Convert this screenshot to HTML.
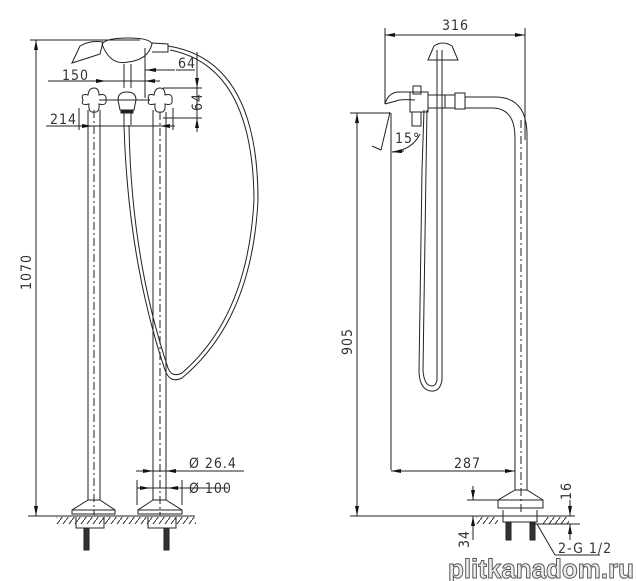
<!DOCTYPE html>
<html><head><meta charset="utf-8"><style>
html,body{margin:0;padding:0;background:#fff}
svg{display:block}
text{font-family:"DejaVu Sans Condensed","Liberation Sans",sans-serif;fill:#333;font-size:14px;letter-spacing:1px}
</style></head><body>
<svg width="636" height="581" viewBox="0 0 636 581" xmlns="http://www.w3.org/2000/svg">
<defs>
<marker id="a" viewBox="0 0 10 4" refX="10" refY="2" markerWidth="10" markerHeight="4" orient="auto-start-reverse" markerUnits="userSpaceOnUse"><path d="M0,0 L10,2 L0,4z" fill="#111"/></marker>
<pattern id="h" width="6" height="8" patternUnits="userSpaceOnUse"><path d="M6,0 L0,8" stroke="#333" stroke-width="1"/></pattern>
</defs>
<g stroke="#222" stroke-width="1" fill="none">
<line x1="30" y1="40" x2="140" y2="40"/>
<line x1="36" y1="40" x2="36" y2="516" marker-start="url(#a)" marker-end="url(#a)"/>
<line x1="28" y1="516" x2="195" y2="516"/>
<rect x="56" y="517" width="140" height="7" fill="url(#h)" stroke="none"/>
<path d="M72,63 L80,46 Q90,40 103,42 L100,54 Q88,58 72,63z"/>
<path d="M102,44 Q110,66 128,62 Q148,60 152,44 Q150,38 128,38 Q106,38 102,44z"/>
<path d="M152,43 L168,44 L168,52 L152,52"/>
<path d="M168,46 Q258,60 258,200 Q252,320 182,378 Q170,384 165,370 Q128,260 124,125"/>
<path d="M170,50 Q253,66 254,200 Q248,316 182,373 Q172,378 168,368 Q131,258 129,125"/>
<path d="M124,64 L124,88 M131,64 L131,88"/>
<path d="M118,100 Q118,92 127,92 Q136,92 136,100 L134,110 L120,110z"/>
<rect x="121" y="110" width="12" height="3" fill="#222"/>
<path d="M124,113 L124,125 M131,113 L131,125"/>
<path d="M83,100 Q80,93 88,95 Q89,88 94,88 Q99,88 99,95 Q107,93 106,100 Q107,106 99,104 Q100,113 94,112 Q88,113 89,104 Q80,106 83,100z"/>
<path d="M149,100 Q146,93 154,95 Q155,88 160,88 Q165,88 165,95 Q173,93 172,100 Q173,106 165,104 Q166,113 160,112 Q154,113 155,104 Q146,106 149,100z"/>
<line x1="99" y1="100" x2="150" y2="100"/>
<path d="M88,110 L88,500 M100,110 L100,500 M153,110 L153,500 M166,112 L166,500"/>
<path d="M94,110 L94,515 M160,112 L160,515" stroke-dasharray="8,3,2,3"/>
<path d="M88,500 L72,510 L72,514 L115,514 L115,510 L100,500z M72,510 L115,510"/>
<path d="M153,500 L138,510 L138,514 L182,514 L182,510 L166,500z M138,510 L182,510"/>
<path d="M76,517 L76,528 L104,528 L104,517 M148,517 L148,528 L176,528 L176,517"/>
<rect x="84" y="528" width="5" height="22" fill="#333"/>
<rect x="164" y="528" width="5" height="22" fill="#333"/>
<line x1="48" y1="81" x2="150" y2="81"/>
<line x1="92" y1="81" x2="106" y2="81" marker-end="url(#a)"/>
<line x1="160" y1="81" x2="145" y2="81" marker-end="url(#a)"/>
<line x1="145" y1="48" x2="145" y2="98"/>
<line x1="145" y1="70" x2="175" y2="70"/><line x1="160" y1="70" x2="146" y2="70" marker-end="url(#a)"/>
<line x1="176" y1="70" x2="195" y2="70"/>
<line x1="163" y1="88" x2="202" y2="88"/>
<line x1="163" y1="118" x2="202" y2="118"/>
<line x1="197" y1="52" x2="197" y2="132"/>
<line x1="197" y1="72" x2="197" y2="88" marker-end="url(#a)"/>
<line x1="197" y1="132" x2="197" y2="118" marker-end="url(#a)"/>
<line x1="46" y1="126" x2="175" y2="126"/>
<line x1="79" y1="108" x2="79" y2="130"/><line x1="173" y1="108" x2="173" y2="130"/>
<line x1="80" y1="126" x2="92" y2="126" marker-end="url(#a)"/>
<line x1="172" y1="126" x2="160" y2="126" marker-end="url(#a)"/>
<line x1="136" y1="471" x2="244" y2="471"/>
<line x1="140" y1="471" x2="153" y2="471" marker-end="url(#a)"/>
<line x1="180" y1="471" x2="166" y2="471" marker-end="url(#a)"/>
<line x1="137" y1="488" x2="228" y2="488"/>
<line x1="137" y1="488" x2="150" y2="488" marker-end="url(#a)"/>
<line x1="182" y1="488" x2="168" y2="488" marker-end="url(#a)"/>
<line x1="137" y1="480" x2="137" y2="505"/><line x1="182" y1="480" x2="182" y2="505"/>

<line x1="385" y1="35" x2="525" y2="35" marker-start="url(#a)" marker-end="url(#a)"/>
<line x1="385" y1="28" x2="385" y2="104"/>
<line x1="525" y1="28" x2="525" y2="140"/>
<path d="M428,60 L434,46 Q443,40 452,46 L458,60z"/>
<path d="M437,50 L437,380 Q436,386 432,386 Q424,386 423,370 L426,170 M442,50 L442,380 Q440,392 431,391 Q420,390 419,372 L422,170"/>
<path d="M422,170 L424,110 M426,170 L427,110"/>
<path d="M385,104 Q388,93 398,92 L415,92 M385,104 L396,101 Q400,99 415,100"/>
<rect x="413" y="86" width="8" height="8"/>
<path d="M410,92 L428,92 L428,112 L410,112z"/>
<rect x="412" y="112" width="9" height="14"/>
<path d="M428,95 L445,95 L445,108 L428,108 M445,95 L455,95 L455,108 L445,108"/>
<rect x="455" y="93" width="10" height="16"/>
<path d="M465,97 L495,97 Q527,97 527,135 L527,490 M465,108 L492,108 Q515,108 515,138 L515,490"/>
<path d="M521,120 L521,515" stroke-dasharray="8,3,2,3"/>
<path d="M515,490 L498,500 L498,508 L543,508 L543,500 L527,490z M498,500 L543,500"/>
<path d="M503,510 L503,522 L537,522 L537,510"/>
<rect x="506" y="522" width="5" height="18" fill="#333"/>
<rect x="530" y="522" width="5" height="18" fill="#333"/>
<rect x="476" y="517" width="22" height="7" fill="url(#h)" stroke="none"/>
<rect x="543" y="517" width="26" height="7" fill="url(#h)" stroke="none"/>
<line x1="350" y1="516" x2="575" y2="516"/>
<line x1="350" y1="113" x2="390" y2="113"/>
<line x1="357" y1="113" x2="357" y2="516" marker-start="url(#a)" marker-end="url(#a)"/>
<line x1="391" y1="113" x2="391" y2="470"/>
<path d="M390,112 L381,150 M372,146 L381,150"/>
<path d="M420,134 Q412,150 392,152" />
<line x1="404" y1="151" x2="392" y2="152" marker-end="url(#a)"/>
<line x1="391" y1="471" x2="515" y2="471" marker-start="url(#a)" marker-end="url(#a)"/>
<line x1="467" y1="500" x2="530" y2="500"/>
<line x1="473" y1="486" x2="473" y2="500" marker-end="url(#a)"/>
<line x1="473" y1="540" x2="473" y2="516" marker-end="url(#a)"/>
<line x1="530" y1="524" x2="580" y2="524"/>
<line x1="570" y1="500" x2="570" y2="516" marker-end="url(#a)"/>
<line x1="570" y1="540" x2="570" y2="524" marker-end="url(#a)"/>
<line x1="537" y1="524" x2="555" y2="555"/>
<line x1="555" y1="555" x2="600" y2="555"/>
</g>
<text x="62" y="80">150</text>
<text x="178" y="68">64</text>
<text transform="translate(202,111) rotate(-90)">64</text>
<text x="50" y="124">214</text>
<text transform="translate(31,290) rotate(-90)">1070</text>
<text x="189" y="468">Ø 26.4</text>
<text x="189" y="493">Ø 100</text>
<text x="442" y="30">316</text>
<text x="395" y="143">15°</text>
<text transform="translate(352,355) rotate(-90)">905</text>
<text x="454" y="468">287</text>
<text transform="translate(571,500) rotate(-90)">16</text>
<text transform="translate(469,548) rotate(-90)">34</text>
<text x="558" y="553">2-G 1/2</text>
<text x="448" y="578" textLength="186" lengthAdjust="spacingAndGlyphs" style="font-size:27px;font-weight:bold;letter-spacing:0;fill:#eee;stroke:#555;stroke-width:1;font-family:'Liberation Sans',sans-serif">plitkanadom.ru</text>
</svg>
</body></html>
